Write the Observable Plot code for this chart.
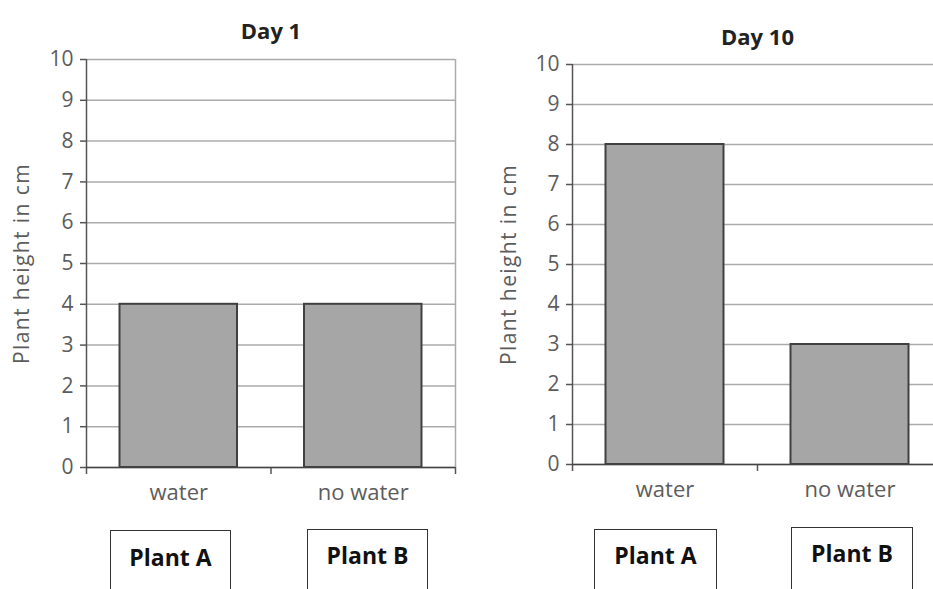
<!DOCTYPE html>
<html>
<head>
<meta charset="utf-8">
<script src="https://cdn.jsdelivr.net/npm/d3@7"></script>
<script src="https://cdn.jsdelivr.net/npm/@observablehq/plot@0.6"></script>
<style>
  html, body { margin: 0; padding: 0; background: #fff; }
  body { width: 933px; height: 589px; overflow: hidden; position: relative; font-family: "Open Sans", sans-serif; }
  .chart { position: absolute; top: 0; width: 480px; }
  .chart svg { max-width: none !important; }
  .plantbox { position: absolute; box-sizing: border-box; border: 1.5px solid #333; border-bottom: none;
    background: #fff; font-family: "Open Sans", sans-serif; font-weight: 700; font-size: 23px; color: #111;
    text-align: center; height: 70px; line-height: 31px; }
</style>
</head>
<body>
<div id="left" class="chart" style="left:0px"></div>
<div id="right" class="chart" style="left:486px"></div>
<script>
// ---- data ----
const conditions = ["water", "no water"];
const plants = ["Plant A", "Plant B"];
const titles = ["Day 1", "Day 10"];
const day1Heights = [4, 4];
const day10Heights = [8, 3];
const yTicks = [0, 1, 2, 3, 4, 5, 6, 7, 8, 9, 10];
const yLabel = "Plant height in cm";

// ---- drawing ----
const gridColor = "#ababab";
const textColor = "#5c5c5c";

function chart(title, heights, opts) {
  const rows = conditions.map((c, i) => ({condition: c, i, value: heights[i]}));
  const svg = Plot.plot({
    width: opts.width,
    height: 520,
    marginLeft: 86,
    marginRight: 15,
    marginTop: opts.top,
    marginBottom: 520 - opts.zero,
    style: {fontFamily: "'Open Sans', sans-serif", fontSize: "21px", color: textColor, background: "transparent", overflow: "visible", maxWidth: "none"},
    x: {domain: [0, conditions.length], axis: null},
    y: {domain: [0, 10], axis: null},
    marks: [
      Plot.ruleY(yTicks, {stroke: gridColor, strokeWidth: 1.5}),
      Plot.ruleX([conditions.length], {y1: 0, y2: 10, stroke: gridColor, strokeWidth: 1.5}),
      Plot.axisY({ticks: yTicks, tickSize: 6, tickPadding: 7, fontSize: 21, stroke: "#555", strokeWidth: 1.5, tickFormat: d => String(d), label: null}),
      Plot.text([yLabel], {frameAnchor: "left", textAnchor: "middle", rotate: -90, dx: opts.labelDx, fontSize: 21, fill: textColor, className: "ylab"}),
      Plot.rectY(rows, {x1: d => d.i, x2: d => d.i + 1, y: "value", insetLeft: 33.5, insetRight: 33.5,
        fill: "#a6a6a6", stroke: "#404040", strokeWidth: 2}),
      Plot.ruleX(d3.range(conditions.length + 1), {y1: 0, y2: 0, insetBottom: -7, stroke: "#555", strokeWidth: 1.5}),
      Plot.ruleX([0], {y1: 0, y2: 10, stroke: "#555", strokeWidth: 1.5}),
      Plot.ruleY([0], {stroke: "#444", strokeWidth: 1.5}),
      Plot.text(rows, {x: d => d.i + 0.5, y: 0, text: "condition", dy: 25, fontSize: 22, fill: textColor}),
      Plot.text([title], {frameAnchor: "top", dy: opts.titleDy, fontSize: 22, fontWeight: "bold", fill: "#222"})
    ]
  });
  d3.select(svg).selectAll(".ylab text").attr("letter-spacing", "1.4px");
  return svg;
}

document.getElementById("left").append(chart(titles[0], day1Heights, {width: 470, top: 59, zero: 467, titleDy: -36, labelDx: -64}));
document.getElementById("right").append(chart(titles[1], day10Heights, {width: 471, top: 64, zero: 464, titleDy: -35, labelDx: -63}));

// plant label boxes below the charts
const boxLayout = [
  {left: 110, top: 530, width: 121, pad: 11},
  {left: 307, top: 529, width: 121, pad: 10},
  {left: 594, top: 529, width: 123, pad: 10},
  {left: 791, top: 527, width: 122, pad: 10}
];
boxLayout.forEach((b, k) => {
  const div = document.createElement("div");
  div.className = "plantbox";
  div.textContent = plants[k % plants.length];
  Object.assign(div.style, {left: b.left + "px", top: b.top + "px", width: b.width + "px", paddingTop: b.pad + "px"});
  document.body.append(div);
});
</script>
</body>
</html>
